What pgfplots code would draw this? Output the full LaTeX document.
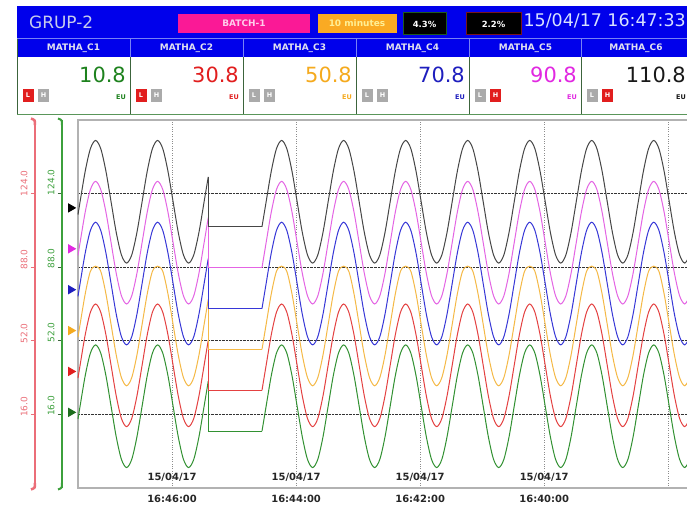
\documentclass[border=0pt]{standalone}
\usepackage{pgfplots}
\pgfplotsset{compat=1.18}
\usepackage{pgfplotstable}
\usepackage{fontspec}
\setmainfont{DejaVu Sans}

\definecolor{hdrblue}{RGB}{0,0,235}
\definecolor{hdrsep}{RGB}{120,130,245}
\definecolor{cellsep}{RGB}{60,100,60}
\definecolor{topgreen}{RGB}{90,150,90}
\definecolor{titlecol}{RGB}{200,205,235}
\definecolor{datecol}{RGB}{215,225,255}
\definecolor{batchpink}{RGB}{250,25,150}
\definecolor{boxorange}{RGB}{250,170,35}
\definecolor{lhred}{RGB}{225,30,30}
\definecolor{lhgray}{RGB}{170,170,170}
\definecolor{scaleRed}{RGB}{235,110,120}
\definecolor{scaleGreen}{RGB}{60,160,60}
\definecolor{vG}{RGB}{30,130,30}
\definecolor{vR}{RGB}{225,30,30}
\definecolor{vO}{RGB}{245,170,30}
\definecolor{vB}{RGB}{30,30,190}
\definecolor{vM}{RGB}{225,40,225}
\definecolor{vK}{RGB}{25,25,25}
\definecolor{cK}{RGB}{70,70,70}
\definecolor{cM}{RGB}{228,100,228}
\definecolor{cB}{RGB}{55,55,215}
\definecolor{cO}{RGB}{245,185,70}
\definecolor{cR}{RGB}{228,65,65}
\definecolor{cG}{RGB}{50,145,50}

% before the gap
\pgfplotstableread{
t k m b o r g
-91 113.76 93.76 73.76 53.76 33.76 13.76
-89 120 100 80 60 40 20
-84 135 115 95 75 55 35
-79 145.98 125.98 105.98 85.98 65.98 45.98
-74 150 130 110 88.5 70 50
-69 145.98 125.98 105.98 85.98 65.98 45.98
-64 135 115 95 75 55 35
-59 120 100 80 60 40 20
-54 105 85 65 45 25 5
-49 94.02 74.02 54.02 34.02 14.02 -5.98
-44 90 70 50 30 10 -10
-39 94.02 74.02 54.02 34.02 14.02 -5.98
-34 105 85 65 45 25 5
-29 120 100 80 60 40 20
-24 135 115 95 75 55 35
-19 145.98 125.98 105.98 85.98 65.98 45.98
-14 150 130 110 88.5 70 50
-9 145.98 125.98 105.98 85.98 65.98 45.98
-4 135 115 95 75 55 35
1 120 100 80 60 40 20
6 105 85 65 45 25 5
11 94.02 74.02 54.02 34.02 14.02 -5.98
16 90 70 50 30 10 -10
21 94.02 74.02 54.02 34.02 14.02 -5.98
26 105 85 65 45 25 5
31 120 100 80 60 40 20
35 132.2 112.2 92.2 72.2 52.2 32.2
}\tA

% the gap
\pgfplotstableread{
t k m b o r g
35 132.2 112.2 92.2 72.2 52.2 32.2
35 107.8 87.8 67.8 47.8 27.8 7.8
87 107.8 87.8 67.8 47.8 27.8 7.8
}\tB

% after the gap
\pgfplotstableread{
t k m b o r g
87 107.8 87.8 67.8 47.8 27.8 7.8
91 120 100 80 60 40 20
96 135 115 95 75 55 35
101 145.98 125.98 105.98 85.98 65.98 45.98
106 150 130 110 88.5 70 50
111 145.98 125.98 105.98 85.98 65.98 45.98
116 135 115 95 75 55 35
121 120 100 80 60 40 20
126 105 85 65 45 25 5
131 94.02 74.02 54.02 34.02 14.02 -5.98
136 90 70 50 30 10 -10
141 94.02 74.02 54.02 34.02 14.02 -5.98
146 105 85 65 45 25 5
151 120 100 80 60 40 20
156 135 115 95 75 55 35
161 145.98 125.98 105.98 85.98 65.98 45.98
166 150 130 110 88.5 70 50
171 145.98 125.98 105.98 85.98 65.98 45.98
176 135 115 95 75 55 35
181 120 100 80 60 40 20
186 105 85 65 45 25 5
191 94.02 74.02 54.02 34.02 14.02 -5.98
196 90 70 50 30 10 -10
201 94.02 74.02 54.02 34.02 14.02 -5.98
206 105 85 65 45 25 5
211 120 100 80 60 40 20
216 135 115 95 75 55 35
221 145.98 125.98 105.98 85.98 65.98 45.98
226 150 130 110 88.5 70 50
231 145.98 125.98 105.98 85.98 65.98 45.98
236 135 115 95 75 55 35
241 120 100 80 60 40 20
246 105 85 65 45 25 5
251 94.02 74.02 54.02 34.02 14.02 -5.98
256 90 70 50 30 10 -10
261 94.02 74.02 54.02 34.02 14.02 -5.98
266 105 85 65 45 25 5
271 120 100 80 60 40 20
276 135 115 95 75 55 35
281 145.98 125.98 105.98 85.98 65.98 45.98
286 150 130 110 88.5 70 50
291 145.98 125.98 105.98 85.98 65.98 45.98
296 135 115 95 75 55 35
301 120 100 80 60 40 20
306 105 85 65 45 25 5
311 94.02 74.02 54.02 34.02 14.02 -5.98
316 90 70 50 30 10 -10
321 94.02 74.02 54.02 34.02 14.02 -5.98
326 105 85 65 45 25 5
331 120 100 80 60 40 20
336 135 115 95 75 55 35
341 145.98 125.98 105.98 85.98 65.98 45.98
346 150 130 110 88.5 70 50
351 145.98 125.98 105.98 85.98 65.98 45.98
356 135 115 95 75 55 35
361 120 100 80 60 40 20
366 105 85 65 45 25 5
371 94.02 74.02 54.02 34.02 14.02 -5.98
376 90 70 50 30 10 -10
381 94.02 74.02 54.02 34.02 14.02 -5.98
386 105 85 65 45 25 5
391 120 100 80 60 40 20
396 135 115 95 75 55 35
401 145.98 125.98 105.98 85.98 65.98 45.98
406 150 130 110 88.5 70 50
411 145.98 125.98 105.98 85.98 65.98 45.98
416 135 115 95 75 55 35
421 120 100 80 60 40 20
426 105 85 65 45 25 5
431 94.02 74.02 54.02 34.02 14.02 -5.98
436 90 70 50 30 10 -10
441 94.02 74.02 54.02 34.02 14.02 -5.98
446 105 85 65 45 25 5
451 120 100 80 60 40 20
456 135 115 95 75 55 35
461 145.98 125.98 105.98 85.98 65.98 45.98
466 150 130 110 88.5 70 50
471 145.98 125.98 105.98 85.98 65.98 45.98
476 135 115 95 75 55 35
481 120 100 80 60 40 20
486 105 85 65 45 25 5
491 94.02 74.02 54.02 34.02 14.02 -5.98
496 90 70 50 30 10 -10
501 94.02 74.02 54.02 34.02 14.02 -5.98
}\tC

\begin{document}
\begin{tikzpicture}
\fill[white] (0,0) rectangle (687bp,509bp);
\path[use as bounding box] (0,0) rectangle (687bp,509bp);

% header panel, in pixel coordinates from the top
\begin{scope}[x=1bp,y=-1bp,shift={(0bp,509bp)}]
  \fill[hdrblue] (17,6) rectangle (690,38);
  \fill[hdrsep] (17,38) rectangle (690,39.5);
  \fill[hdrblue] (17,39.5) rectangle (690,57);
  \foreach \xx in {130,243,356,469,581} {
    \draw[hdrsep, line width=0.8bp] (\xx,39.5) -- (\xx,57);
    \draw[cellsep, line width=1bp] (\xx,57) -- (\xx,114);
  }
  \draw[cellsep, line width=1bp] (17,39.5) -- (17,114);
  \draw[topgreen, line width=1.5bp] (17,114.5) -- (690,114.5);

  \node[anchor=west, inner sep=0, text=titlecol, font=\fontsize{17}{17}\selectfont] at (29,22) {GRUP-2};
  \fill[batchpink] (178,14) rectangle (310,33);
  \node[text={rgb,255:red,255;green,205;blue,235}, font=\fontsize{9}{9}\selectfont\bfseries] at (244,23.5) {BATCH-1};
  \fill[boxorange] (318,14) rectangle (397,33);
  \node[text={rgb,255:red,255;green,240;blue,150}, font=\fontsize{9}{9}\selectfont\bfseries] at (357,23.5) {10 minutes};
  \filldraw[fill=black, draw={rgb,255:red,30;green,90;blue,30}, line width=1bp] (403,13) rectangle (446,35);
  \node[text=white, font=\fontsize{8.5}{9}\selectfont\bfseries] at (424.5,24) {4.3\%};
  \filldraw[fill=black, draw={rgb,255:red,120;green,20;blue,30}, line width=1bp] (466,13) rectangle (521,35);
  \node[text=white, font=\fontsize{8.5}{9}\selectfont\bfseries] at (493.5,24) {2.2\%};
  \node[anchor=east, inner sep=0, text=datecol, font=\fontsize{17.5}{18}\selectfont] at (686,21) {15/04/17 16:47:33};

  \foreach \xc/\nm in {73.5/MATHA\_C1,186.5/MATHA\_C2,299.5/MATHA\_C3,412.5/MATHA\_C4,525.5/MATHA\_C5,636/MATHA\_C6}
    \node[text={rgb,255:red,225;green,225;blue,240}, font=\fontsize{9}{9}\selectfont\bfseries] at (\xc,48.5) {\nm};

  \foreach \xr/\vv/\cc in {126/10.8/vG,239/30.8/vR,352/50.8/vO,465/70.8/vB,577/90.8/vM,686/110.8/vK} {
    \node[anchor=east, inner sep=0, text=\cc, font=\fontsize{21}{21}\selectfont] at (\xr,75) {\vv};
    \node[anchor=east, inner sep=0, text=\cc, font=\fontsize{6.5}{7}\selectfont\bfseries] at (\xr,97) {EU};
  }

  \foreach \xl/\ca/\cb in {17/lhred/lhgray,130/lhred/lhgray,243/lhgray/lhgray,356/lhgray/lhgray,469/lhgray/lhred,581/lhgray/lhred} {
    \fill[\ca] (\xl+5.5,89) rectangle (\xl+16.5,102);
    \node[text=white, font=\fontsize{6.5}{7}\selectfont\bfseries, inner sep=0] at (\xl+11,95.5) {L};
    \fill[\cb] (\xl+21,89) rectangle (\xl+32,102);
    \node[text=white, font=\fontsize{6.5}{7}\selectfont\bfseries, inner sep=0] at (\xl+26.5,95.5) {H};
  }

  % ends of the two scale bars
  \draw[scaleRed, line width=2.5bp] (35,125) .. controls (35,120) .. (31,118.5);
  \draw[scaleRed, line width=2.5bp] (35,483) .. controls (35,488) .. (31,489.5);
  \draw[scaleGreen, line width=2bp] (62,125) .. controls (62,120) .. (58,118.5);
  \draw[scaleGreen, line width=2bp] (62,483) .. controls (62,488) .. (58,489.5);
\end{scope}

% red scale
\begin{axis}[
  at={(35bp,21bp)}, anchor=south west, scale only axis,
  width=10bp, height=368bp,
  xmin=0, xmax=1, ymin=-20, ymax=160,
  hide x axis, axis y line*=left,
  y axis line style={draw=scaleRed, line width=2.5bp},
  ytick={16,52,88,124}, yticklabels={16.0,52.0,88.0,124.0},
  yticklabel style={rotate=90, anchor=south west, text=scaleRed,
    font=\fontsize{9}{9}\selectfont, xshift=-6bp, yshift=0bp},
  ytick style={draw=scaleRed, line width=1bp},
  major tick length=4bp, tick align=outside,
]
\end{axis}

% green scale
\begin{axis}[
  at={(62bp,21bp)}, anchor=south west, scale only axis,
  width=10bp, height=368bp,
  xmin=0, xmax=1, ymin=-20, ymax=160,
  hide x axis, axis y line*=left,
  y axis line style={draw=scaleGreen, line width=2bp},
  ytick={16,52,88,124}, yticklabels={16.0,52.0,88.0,124.0},
  yticklabel style={rotate=90, anchor=south west, text=scaleGreen,
    font=\fontsize{9}{9}\selectfont, xshift=-5bp, yshift=0bp},
  ytick style={draw=cellsep, line width=1bp},
  major tick length=4bp, tick align=outside,
]
\end{axis}

% trend area
\begin{axis}[
  at={(78bp,21bp)}, anchor=south west, scale only axis,
  width=614bp, height=368bp,
  xmin=-91, xmax=503, ymin=-20, ymax=160,
  clip=false,
  axis line style={draw=black!30, line width=1.8bp},
  xtick={0,120,240,360,480},
  xticklabels={{15/04/17\\16:46:00},{15/04/17\\16:44:00},{15/04/17\\16:42:00},{15/04/17\\16:40:00},{}},
  xticklabel style={align=center, text=black!85,
    font=\fontsize{10}{22}\selectfont\bfseries, yshift=18bp},
  ytick={16,52,88,124}, yticklabels={,,,},
  tick style={draw=none},
  grid=major,
  major x grid style={dotted, black!45, line width=1bp},
  major y grid style={densely dotted, black!80, line width=1bp},
  every axis plot/.append style={line width=1bp},
]
\addplot[cG, smooth] table[x=t,y=g]{\tA};
\addplot[cG] table[x=t,y=g]{\tB};
\addplot[cG, smooth] table[x=t,y=g]{\tC};
\addplot[cR, smooth] table[x=t,y=r]{\tA};
\addplot[cR] table[x=t,y=r]{\tB};
\addplot[cR, smooth] table[x=t,y=r]{\tC};
\addplot[cO, smooth] table[x=t,y=o]{\tA};
\addplot[cO] table[x=t,y=o]{\tB};
\addplot[cO, smooth] table[x=t,y=o]{\tC};
\addplot[cB, smooth] table[x=t,y=b]{\tA};
\addplot[cB] table[x=t,y=b]{\tB};
\addplot[cB, smooth] table[x=t,y=b]{\tC};
\addplot[cM, smooth] table[x=t,y=m]{\tA};
\addplot[cM] table[x=t,y=m]{\tB};
\addplot[cM, smooth] table[x=t,y=m]{\tC};
\addplot[cK, smooth] table[x=t,y=k]{\tA};
\addplot[cK] table[x=t,y=k]{\tB};
\addplot[cK, smooth] table[x=t,y=k]{\tC};
% current value pointers at the left edge
\addplot[only marks, mark=triangle*, mark size=4.5bp, mark options={rotate=-90}, draw=black, fill=black] coordinates {(-98,117)};
\addplot[only marks, mark=triangle*, mark size=4.5bp, mark options={rotate=-90}, draw=vM, fill=vM] coordinates {(-98,97)};
\addplot[only marks, mark=triangle*, mark size=4.5bp, mark options={rotate=-90}, draw=vB, fill=vB] coordinates {(-98,77)};
\addplot[only marks, mark=triangle*, mark size=4.5bp, mark options={rotate=-90}, draw=vO, fill=vO] coordinates {(-98,57)};
\addplot[only marks, mark=triangle*, mark size=4.5bp, mark options={rotate=-90}, draw=vR, fill=vR] coordinates {(-98,37)};
\addplot[only marks, mark=triangle*, mark size=4.5bp, mark options={rotate=-90}, draw={rgb,255:red,30;green,110;blue,30}, fill={rgb,255:red,30;green,110;blue,30}] coordinates {(-98,17)};
\end{axis}
\end{tikzpicture}
\end{document}
